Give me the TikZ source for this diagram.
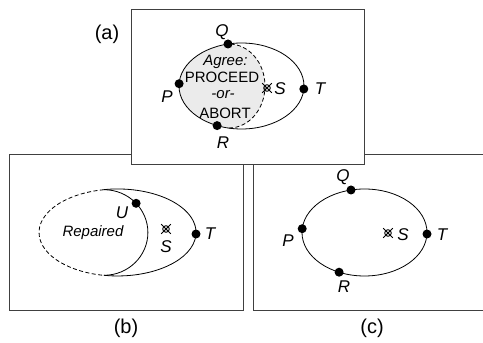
\documentclass[tikz,border=0pt]{standalone}
\usepackage{fontspec}
\setmainfont{Liberation Sans}
\begin{document}
\begin{tikzpicture}[x=1pt,y=1pt,
 frame/.style={draw=black!75, line width=1pt},
 ring/.style={line width=0.8pt},
 dot/.style={circle, fill=black, inner sep=0pt, minimum size=9pt},
 lbl/.style={font=\fontsize{17}{19}\selectfont\itshape, inner sep=0pt},
 panelcap/.style={font=\fontsize{20}{22}\selectfont, inner sep=0pt},
 txt/.style={font=\fontsize{15}{17}\selectfont, inner sep=0pt, anchor=base},
 dsh/.style={ring, dash pattern=on 4pt off 2.5pt},
 smark/.pic={
   \draw[line width=0.9pt] (0,0) circle (3.3);
   \draw[line width=0.8pt] (-4.8,-4.8) -- (4.8,4.8) (-4.8,4.8) -- (4.8,-4.8);
   \fill (0,0) circle (1.3);
 },
]
\useasboundingbox (0,0) rectangle (483,343);

% lower frames
\draw[frame] (9,188) rectangle (243,32);
\draw[frame] (483,188) -- (253,188) -- (253,32) -- (483,32);
% upper frame
\draw[frame, fill=white] (131,333) rectangle (364,178);

% ---------- (a)
\fill[gray!16] (228,299) arc[start angle=102.5, end angle=259.4, x radius=62.5, y radius=43]
   -- (229,215) arc[start angle=-90, end angle=90, x radius=36, y radius=42] -- cycle;
\draw[ring] (241.5,257) ellipse[x radius=62.5, y radius=43];
\draw[dsh] (229,215) arc[start angle=-90, end angle=90, x radius=36, y radius=42];
\node[dot] (aQ) at (228,299) {};
\node[dot] (aP) at (179.1,259.3) {};
\node[dot] (aR) at (217.1,217.4) {};
\node[dot] (aT) at (303.8,254) {};
\pic at (267,255) {smark};
\node[lbl] (laQ) at (222,311) {Q};
\node[lbl] (laP) at (167,246) {P};
\node[lbl] (laR) at (223,200) {R};
\node[lbl] (laT) at (320,254) {T};
\node[lbl] (laS) at (280,254) {S};
\node[txt, font=\fontsize{15}{17}\selectfont\itshape] (agree) at (225.5,277.5) {Agree:};
\node[txt] (proc) at (222,260.5) {PROCEED};
\node[txt, font=\fontsize{15}{17}\selectfont\itshape] (or) at (223,244.5) {-or-};
\node[txt] (abort) at (225,224) {ABORT};
\node[panelcap] (capa) at (107,308.5) {(a)};

% ---------- (b)
\draw[ring] (103.9,67.7) arc[start angle=-100, end angle=100, x radius=78.5, y radius=43.5];
\draw[dsh] (103.9,153.3) arc[start angle=100, end angle=260, x radius=78.5, y radius=43.5];
\draw[ring] (103.9,153.3) arc[start angle=90, end angle=-90, x radius=44, y radius=42.8];
\node[dot] (bU) at (136.1,139.7) {};
\node[dot] (bT) at (196,109) {};
\pic at (166,114) {smark};
\node[lbl] (lbU) at (122,130) {U};
\node[lbl] (lbS) at (166,96) {S};
\node[lbl] (lbT) at (210,109) {T};
\node[font=\fontsize{15}{17}\selectfont\itshape, inner sep=0pt] (rep) at (93,110) {Repaired};
\node[panelcap] (capb) at (126,15) {(b)};

% ---------- (c)
\draw[ring] (364.5,110.5) ellipse[x radius=62.5, y radius=43.5];
\node[dot] (cQ) at (351,153) {};
\node[dot] (cP) at (302.2,114.3) {};
\node[dot] (cR) at (339.1,70.8) {};
\node[dot] (cT) at (427,109) {};
\pic at (388,110) {smark};
\node[lbl] (lcQ) at (343,166) {Q};
\node[lbl] (lcP) at (288,102) {P};
\node[lbl] (lcR) at (344,56) {R};
\node[lbl] (lcT) at (442,108) {T};
\node[lbl] (lcS) at (403,108) {S};
\node[panelcap] (capc) at (372,15) {(c)};
\end{tikzpicture}
\end{document}
